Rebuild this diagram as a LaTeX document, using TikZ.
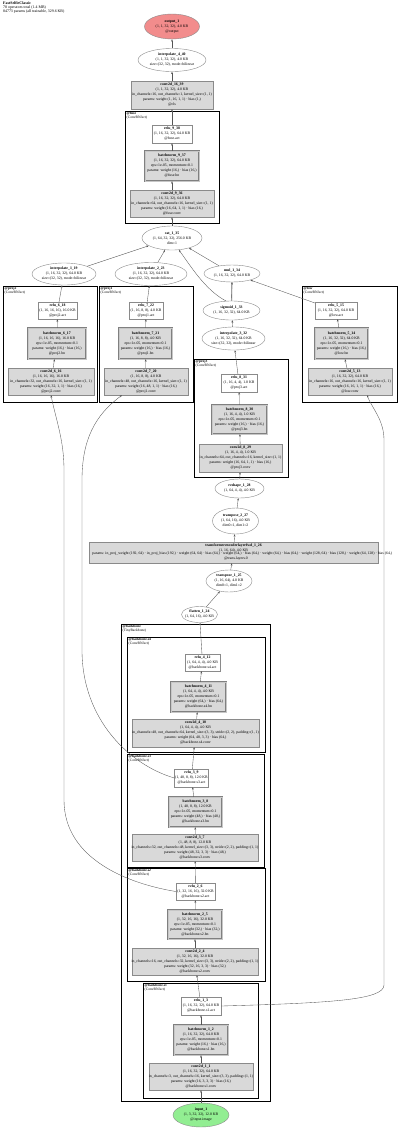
\documentclass[tikz,border=0pt]{standalone}
\usepackage{fontspec}
\setmainfont{Liberation Serif}
\usetikzlibrary{arrows.meta,shapes.geometric}
\definecolor{convfill}{HTML}{D9D9D9}
\definecolor{outfill}{HTML}{F28C8C}
\definecolor{infill}{HTML}{92EE92}
\definecolor{edgec}{HTML}{555555}
\definecolor{bordc}{HTML}{8A8A8A}
\tikzset{
  ell/.style={ellipse, draw=bordc, fill=white, line width=0.4pt, inner sep=0pt},
  plainbox/.style={rectangle, draw=bordc, fill=white, line width=0.4pt, inner sep=0pt},
  convbox/.style={rectangle, draw=bordc, fill=convfill, line width=0.4pt, inner sep=0pt},
  bnbox/.style={rectangle, draw=black!50, double=black!22, double distance=0.5pt, line width=0.45pt, fill=convfill, inner sep=0pt},
  lbl/.style={align=center, font=\fontsize{3.8}{5}\selectfont, inner sep=0pt},
  clus/.style={rectangle, draw=black, line width=1.3pt, inner sep=0pt, anchor=north west},
  clab/.style={align=left, font=\fontsize{3.6}{4}\selectfont, inner sep=0pt, anchor=north west},
  edge/.style={draw=edgec, line width=0.35pt, -{Stealth[length=2.4pt,width=1.8pt]}},
  gateedge/.style={draw=black!22, line width=1.3pt},
}
\newcommand\gnode[7]{%
  \node[#2, minimum width=#5pt, minimum height=#6pt] (#1) at (#3,#4) {};
  \node[lbl] (#1-t) at (#1.center) {#7};}
\newcommand\gclus[7]{%
  \node[clus, minimum width=#4pt, minimum height=#5pt] (#1) at (#2,#3) {};
  \node[clab] (#1-t) at ([xshift=1.5pt,yshift=-1pt]#1.north west) {\textbf{#6}\\#7};}
\begin{document}
\begin{tikzpicture}[x=1pt,y=-1pt]
\useasboundingbox (0,0) rectangle (400,1128);
% header
\node[align=left, anchor=north west, inner sep=0pt, font=\fontsize{3.9}{3.9}\selectfont] (hdr) at (3,2)
  {\textbf{FastSelfieClassic}\\78 operators total (1.4 MB)\\84773 params (all trainable, 329.6 KB)};

% clusters
\gclus{cfuse}{125}{111}{94}{112}{@fuse}{(ConvBNAct)}
\gclus{cproj2}{3}{286}{94}{116}{@proj2}{(ConvBNAct)}
\gclus{cproj1}{99}{286}{94}{116}{@proj1}{(ConvBNAct)}
\gclus{clow}{302}{286}{95}{116}{@low}{(ConvBNAct)}
\gclus{cproj3}{194}{359}{94}{118}{@proj3}{(ConvBNAct)}
\gclus{cbackbone}{121}{624}{149}{477}{@backbone}{(TinyBackbone)}
\gclus{cs4}{127}{637}{138}{115}{@backbone.s4}{(ConvBNAct)}
\gclus{cs3}{127}{754}{137}{113}{@backbone.s3}{(ConvBNAct)}
\gclus{cs2}{127}{868}{138}{113}{@backbone.s2}{(ConvBNAct)}
\gclus{cs1}{143}{983}{115}{115}{@backbone.s1}{(ConvBNAct)}

% head
\gnode{output_1}{ell,fill=outfill}{172}{26.5}{55}{25}{\textbf{output\_1}\\(1, 1, 32, 32), 4.0 KB\\@output}
\gnode{interpolate_4_40}{ell}{172}{60}{68}{23}{\textbf{interpolate\_4\_40}\\(1, 1, 32, 32), 4.0 KB\\size=(32, 32), mode=bilinear}
\gnode{conv2d_16_39}{convbox}{172}{95}{82}{28}{\textbf{conv2d\_16\_39}\\(1, 1, 32, 32), 4.0 KB\\in\_channels=16, out\_channels=1, kernel\_size=(1, 1)\\params: weight (1, 16, 1, 1) · bias (1,)\\@cls}
\gnode{relu_9_38}{plainbox}{172}{134}{40}{18}{\textbf{relu\_9\_38}\\(1, 16, 32, 32), 64.0 KB\\@fuse.act}
\gnode{batchnorm_9_37}{bnbox}{172}{166}{54}{30}{\textbf{batchnorm\_9\_37}\\(1, 16, 32, 32), 64.0 KB\\eps=1e-05, momentum=0.1\\params: weight (16,) · bias (16,)\\@fuse.bn}
\gnode{conv2d_9_36}{convbox}{172}{203.5}{84}{27}{\textbf{conv2d\_9\_36}\\(1, 16, 32, 32), 64.0 KB\\in\_channels=64, out\_channels=16, kernel\_size=(1, 1)\\params: weight (16, 64, 1, 1) · bias (16,)\\@fuse.conv}
\gnode{cat_1_35}{ell}{172}{238}{60}{24}{\textbf{cat\_1\_35}\\(1, 64, 32, 32), 256.0 KB\\dim=1}

% middle row
\gnode{interpolate_1_19}{ell}{64}{274}{64}{22}{\textbf{interpolate\_1\_19}\\(1, 16, 32, 32), 64.0 KB\\size=(32, 32), mode=bilinear}
\gnode{interpolate_2_23}{ell}{151}{274}{72}{23}{\textbf{interpolate\_2\_23}\\(1, 16, 32, 32), 64.0 KB\\size=(32, 32), mode=bilinear}
\gnode{mul_1_34}{ell}{232}{273.5}{56}{17}{\textbf{mul\_1\_34}\\(1, 16, 32, 32), 64.0 KB}
\gnode{sigmoid_1_33}{ell}{231.5}{310.5}{57}{19}{\textbf{sigmoid\_1\_33}\\(1, 16, 32, 32), 64.0 KB}
\gnode{interpolate_3_32}{ell}{233.5}{338.5}{63}{23}{\textbf{interpolate\_3\_32}\\(1, 16, 32, 32), 64.0 KB\\size=(32, 32), mode=bilinear}

% proj2
\gnode{relu_6_18}{plainbox}{57.5}{310.5}{39}{17}{\textbf{relu\_6\_18}\\(1, 16, 16, 16), 16.0 KB\\@proj2.act}
\gnode{batchnorm_6_17}{bnbox}{57}{343.5}{58}{31}{\textbf{batchnorm\_6\_17}\\(1, 16, 16, 16), 16.0 KB\\eps=1e-05, momentum=0.1\\params: weight (16,) · bias (16,)\\@proj2.bn}
\gnode{conv2d_6_16}{convbox}{51}{381.5}{86}{27}{\textbf{conv2d\_6\_16}\\(1, 16, 16, 16), 16.0 KB\\in\_channels=32, out\_channels=16, kernel\_size=(1, 1)\\params: weight (16, 32, 1, 1) · bias (16,)\\@proj2.conv}
% proj1
\gnode{relu_7_22}{plainbox}{146}{310.5}{34}{17}{\textbf{relu\_7\_22}\\(1, 16, 8, 8), 4.0 KB\\@proj1.act}
\gnode{batchnorm_7_21}{bnbox}{145.5}{343.5}{53}{31}{\textbf{batchnorm\_7\_21}\\(1, 16, 8, 8), 4.0 KB\\eps=1e-05, momentum=0.1\\params: weight (16,) · bias (16,)\\@proj1.bn}
\gnode{conv2d_7_20}{convbox}{146}{381.5}{84}{27}{\textbf{conv2d\_7\_20}\\(1, 16, 8, 8), 4.0 KB\\in\_channels=48, out\_channels=16, kernel\_size=(1, 1)\\params: weight (16, 48, 1, 1) · bias (16,)\\@proj1.conv}
% low
\gnode{relu_5_15}{plainbox}{336}{310.5}{42}{17}{\textbf{relu\_5\_15}\\(1, 16, 32, 32), 64.0 KB\\@low.act}
\gnode{batchnorm_5_14}{bnbox}{341.5}{343.5}{53}{31}{\textbf{batchnorm\_5\_14}\\(1, 16, 32, 32), 64.0 KB\\eps=1e-05, momentum=0.1\\params: weight (16,) · bias (16,)\\@low.bn}
\gnode{conv2d_5_13}{convbox}{350}{381.5}{84}{27}{\textbf{conv2d\_5\_13}\\(1, 16, 32, 32), 64.0 KB\\in\_channels=16, out\_channels=16, kernel\_size=(1, 1)\\params: weight (16, 16, 1, 1) · bias (16,)\\@low.conv}
% proj3
\gnode{relu_8_31}{plainbox}{239}{383}{36}{18}{\textbf{relu\_8\_31}\\(1, 16, 4, 4), 1.0 KB\\@proj3.act}
\gnode{batchnorm_8_30}{bnbox}{239.5}{419.5}{55}{29}{\textbf{batchnorm\_8\_30}\\(1, 16, 4, 4), 1.0 KB\\eps=1e-05, momentum=0.1\\params: weight (16,) · bias (16,)\\@proj3.bn}
\gnode{conv2d_8_29}{convbox}{240.5}{458}{83}{28}{\textbf{conv2d\_8\_29}\\(1, 16, 4, 4), 1.0 KB\\in\_channels=64, out\_channels=16, kernel\_size=(1, 1)\\params: weight (16, 64, 1, 1) · bias (16,)\\@proj3.conv}

% transformer chain
\gnode{reshape_1_28}{ell}{239.5}{488.5}{49}{19}{\textbf{reshape\_1\_28}\\(1, 64, 4, 4), 4.0 KB}
\gnode{transpose_2_27}{ell}{235.5}{521}{46}{26}{\textbf{transpose\_2\_27}\\(1, 64, 16), 4.0 KB\\dim0=1, dim1=2}
\node[convbox, minimum width=289pt, minimum height=21pt] (transformer_1_26) at (233.5,552.5) {};
\node[lbl] (transformer_1_26-t) at ([yshift=4.5pt]transformer_1_26.center) {\textbf{transformerencoderlayerfwd\_1\_26}\\(1, 16, 64), 4.0 KB};
\node[lbl, anchor=west] (transformer_1_26-p) at (92,554) {params: in\_proj\_weight (192, 64) · in\_proj\_bias (192,) · weight (64, 64) · bias (64,) · weight (64,) · bias (64,) · weight (64,) · bias (64,) · weight (128, 64) · bias (128,) · weight (64, 128) · bias (64,)};
\node[lbl] (transformer_1_26-n) at (236,559) {@trans.layers.0};
\gnode{transpose_1_25}{ell}{229}{581}{46}{22}{\textbf{transpose\_1\_25}\\(1, 16, 64), 4.0 KB\\dim0=1, dim1=2}
\gnode{flatten_1_24}{ell}{199.5}{614.5}{36}{16}{\textbf{flatten\_1\_24}\\(1, 64, 16), 4.0 KB}

% backbone
\gnode{relu_4_12}{plainbox}{202.5}{662.5}{35}{17}{\textbf{relu\_4\_12}\\(1, 64, 4, 4), 4.0 KB\\@backbone.s4.act}
\gnode{batchnorm_4_11}{bnbox}{198.5}{697}{55}{30}{\textbf{batchnorm\_4\_11}\\(1, 64, 4, 4), 4.0 KB\\eps=1e-05, momentum=0.1\\params: weight (64,) · bias (64,)\\@backbone.s4.bn}
\gnode{conv2d_4_10}{convbox}{195.5}{733}{127}{28}{\textbf{conv2d\_4\_10}\\(1, 64, 4, 4), 4.0 KB\\in\_channels=48, out\_channels=64, kernel\_size=(3, 3), stride=(2, 2), padding=(1, 1)\\params: weight (64, 48, 3, 3) · bias (64,)\\@backbone.s4.conv}
\gnode{relu_3_9}{plainbox}{191.5}{778}{34}{18}{\textbf{relu\_3\_9}\\(1, 48, 8, 8), 12.0 KB\\@backbone.s3.act}
\gnode{batchnorm_3_8}{bnbox}{195.5}{812}{53}{30}{\textbf{batchnorm\_3\_8}\\(1, 48, 8, 8), 12.0 KB\\eps=1e-05, momentum=0.1\\params: weight (48,) · bias (48,)\\@backbone.s3.bn}
\gnode{conv2d_3_7}{convbox}{195}{847.5}{126}{27}{\textbf{conv2d\_3\_7}\\(1, 48, 8, 8), 12.0 KB\\in\_channels=32, out\_channels=48, kernel\_size=(3, 3), stride=(2, 2), padding=(1, 1)\\params: weight (48, 32, 3, 3) · bias (48,)\\@backbone.s3.conv}
\gnode{relu_2_6}{plainbox}{195.5}{891.5}{39}{17}{\textbf{relu\_2\_6}\\(1, 32, 16, 16), 32.0 KB\\@backbone.s2.act}
\gnode{batchnorm_2_5}{bnbox}{195}{924.5}{54}{29}{\textbf{batchnorm\_2\_5}\\(1, 32, 16, 16), 32.0 KB\\eps=1e-05, momentum=0.1\\params: weight (32,) · bias (32,)\\@backbone.s2.bn}
\gnode{conv2d_2_4}{convbox}{195}{961.5}{126}{27}{\textbf{conv2d\_2\_4}\\(1, 32, 16, 16), 32.0 KB\\in\_channels=16, out\_channels=32, kernel\_size=(3, 3), stride=(2, 2), padding=(1, 1)\\params: weight (32, 16, 3, 3) · bias (32,)\\@backbone.s2.conv}
\gnode{relu_1_3}{plainbox}{201}{1006}{40}{18}{\textbf{relu\_1\_3}\\(1, 16, 32, 32), 64.0 KB\\@backbone.s1.act}
\gnode{batchnorm_1_2}{bnbox}{201}{1040}{54}{30}{\textbf{batchnorm\_1\_2}\\(1, 16, 32, 32), 64.0 KB\\eps=1e-05, momentum=0.1\\params: weight (16,) · bias (16,)\\@backbone.s1.bn}
\gnode{conv2d_1_1}{convbox}{201}{1076.5}{104}{27}{\textbf{conv2d\_1\_1}\\(1, 16, 32, 32), 64.0 KB\\in\_channels=3, out\_channels=16, kernel\_size=(3, 3), padding=(1, 1)\\params: weight (16, 3, 3, 3) · bias (16,)\\@backbone.s1.conv}
\gnode{input_1}{ell,fill=infill}{201}{1115}{56}{24}{\textbf{input\_1}\\(1, 3, 32, 32), 12.0 KB\\@input.image}

% edges: backbone chain
\draw[edge] (input_1) -- (conv2d_1_1);
\draw[edge] (conv2d_1_1) -- (batchnorm_1_2);
\draw[edge] (batchnorm_1_2) -- (relu_1_3);
\draw[edge] (relu_1_3) -- (conv2d_2_4);
\draw[edge] (conv2d_2_4) -- (batchnorm_2_5);
\draw[edge] (batchnorm_2_5) -- (relu_2_6);
\draw[edge] (relu_2_6) -- (conv2d_3_7);
\draw[edge] (conv2d_3_7) -- (batchnorm_3_8);
\draw[edge] (batchnorm_3_8) -- (relu_3_9);
\draw[edge] (relu_3_9) -- (conv2d_4_10);
\draw[edge] (conv2d_4_10) -- (batchnorm_4_11);
\draw[edge] (batchnorm_4_11) -- (relu_4_12);
\draw[edge] (relu_4_12) -- (flatten_1_24);
\draw[edge] (flatten_1_24) -- (transpose_1_25);
\draw[edge] (transpose_1_25) -- (transformer_1_26);
\draw[edge] (transformer_1_26) -- (transpose_2_27);
\draw[edge] (transpose_2_27) -- (reshape_1_28);
\draw[edge] (reshape_1_28) -- (conv2d_8_29);
\draw[edge] (conv2d_8_29) -- (batchnorm_8_30);
\draw[edge] (batchnorm_8_30) -- (relu_8_31);
\draw[edge] (relu_8_31) -- (interpolate_3_32);
\draw[edge] (interpolate_3_32) -- (sigmoid_1_33);
\draw[gateedge] (sigmoid_1_33) -- (mul_1_34);
\draw[edge] (sigmoid_1_33.north) -- (mul_1_34.south);
% low branch
\coordinate (lowA) at (384,985);
\coordinate (lowB) at (384,440);
\draw[edge] (relu_1_3.east) .. controls (330,1003) and (384,1000) .. (lowA) -- (lowB) .. controls (384,420) and (372,408) .. ([xshift=17pt]conv2d_5_13.south);
\draw[edge] (conv2d_5_13) -- (batchnorm_5_14);
\draw[edge] (batchnorm_5_14) -- (relu_5_15);
\draw[edge] (relu_5_15) -- (mul_1_34);
% proj2 branch
\coordinate (p2A) at (64,800);
\coordinate (p2B) at (64,470);
\draw[edge] (relu_2_6.west) .. controls (130,884) and (64,860) .. (p2A) -- (p2B) .. controls (64,440) and (56,420) .. (conv2d_6_16.south);
\draw[edge] (conv2d_6_16) -- (batchnorm_6_17);
\draw[edge] (batchnorm_6_17) -- (relu_6_18);
\draw[edge] (relu_6_18) -- (interpolate_1_19);
% proj1 branch
\coordinate (p1A) at (82,650);
\coordinate (p1B) at (82,480);
\draw[edge] (relu_3_9.west) .. controls (130,765) and (82,720) .. (p1A) -- (p1B) .. controls (82,440) and (95,415) .. ([xshift=-24pt]conv2d_7_20.south);
\draw[edge] (conv2d_7_20) -- (batchnorm_7_21);
\draw[edge] (batchnorm_7_21) -- (relu_7_22);
\draw[edge] (relu_7_22) -- (interpolate_2_23);
% into cat
\draw[edge] (interpolate_1_19) -- (cat_1_35);
\draw[edge] (interpolate_2_23) -- (cat_1_35);
\draw[edge] (mul_1_34) -- (cat_1_35);
\draw[edge] (sigmoid_1_33.120) .. controls (205,290) and (190,265) .. (cat_1_35.-60);
% head
\draw[edge] (cat_1_35) -- (conv2d_9_36);
\draw[edge] (conv2d_9_36) -- (batchnorm_9_37);
\draw[edge] (batchnorm_9_37) -- (relu_9_38);
\draw[edge] (relu_9_38) -- (conv2d_16_39);
\draw[edge] (conv2d_16_39) -- (interpolate_4_40);
\draw[edge] (interpolate_4_40) -- (output_1);
\end{tikzpicture}
\end{document}
